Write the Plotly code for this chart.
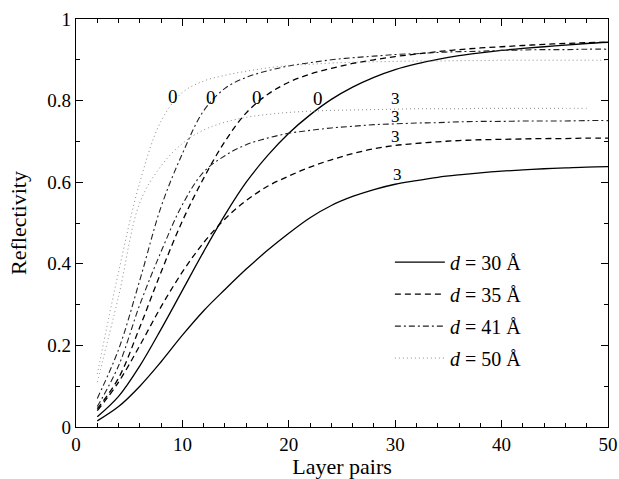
import plotly.graph_objects as go

layer_pairs = [2, 4, 6, 8, 10, 12, 14, 16, 18, 20, 22, 24, 26, 28, 30,
               32, 34, 36, 38, 40, 42, 44, 46, 48, 50]

r30_s0 = [0.025, 0.075, 0.15, 0.24, 0.335, 0.43, 0.52, 0.60, 0.665, 0.72, 0.765, 0.803, 0.833,
          0.857, 0.876, 0.89, 0.901, 0.91, 0.917, 0.923, 0.928, 0.932, 0.936, 0.94, 0.943]
r30_s3 = [0.015, 0.05, 0.10, 0.16, 0.225, 0.285, 0.337, 0.387, 0.433, 0.475, 0.513, 0.543, 0.565,
          0.582, 0.595, 0.604, 0.612, 0.618, 0.623, 0.627, 0.63, 0.633, 0.635, 0.637, 0.638]
r35_s0 = [0.045, 0.12, 0.245, 0.38, 0.505, 0.61, 0.70, 0.77, 0.815, 0.845, 0.865, 0.879, 0.891,
          0.90, 0.908, 0.914, 0.92, 0.925, 0.929, 0.932, 0.935, 0.938, 0.94, 0.942, 0.943]
r35_s3 = [0.04, 0.11, 0.20, 0.295, 0.38, 0.452, 0.51, 0.555, 0.59, 0.615, 0.637, 0.655, 0.67,
          0.682, 0.69, 0.695, 0.699, 0.702, 0.704, 0.705, 0.706, 0.707, 0.707, 0.708, 0.708]
r41_s0 = [0.07, 0.19, 0.36, 0.54, 0.67, 0.775, 0.83, 0.857, 0.873, 0.885, 0.893, 0.90, 0.905,
          0.909, 0.913, 0.915, 0.918, 0.92, 0.921, 0.923, 0.924, 0.925, 0.925, 0.926, 0.926]
r41_s3 = [0.05, 0.15, 0.30, 0.43, 0.545, 0.625, 0.665, 0.692, 0.708, 0.72, 0.727, 0.733, 0.737,
          0.741, 0.743, 0.745, 0.746, 0.748, 0.749, 0.749, 0.75, 0.75, 0.75, 0.751, 0.751]
r50_s0 = [0.13, 0.38, 0.60, 0.75, 0.82, 0.848, 0.862, 0.872, 0.88, 0.886, 0.889, 0.892, 0.894,
          0.895, 0.896, 0.897, 0.897, 0.898, 0.898, 0.899, 0.899, 0.899, 0.899, 0.899, 0.899]
r50_s3 = [0.11, 0.32, 0.55, 0.64, 0.695, 0.728, 0.747, 0.759, 0.766, 0.771, 0.774, 0.776, 0.777,
          0.778, 0.779, 0.78, 0.78, 0.78, 0.781, 0.781, 0.781, 0.781, 0.781, 0.781, None]

legend_names = ["<i>d</i> = 30 Å", "<i>d</i> = 35 Å", "<i>d</i> = 41 Å", "<i>d</i> = 50 Å"]

label0_x = [9.1, 12.7, 17.0, 22.7]
label0_y = [0.81, 0.808, 0.808, 0.806]
label3_x = [30.05, 30.05, 30.05, 30.2]
label3_y = [0.806, 0.762, 0.711, 0.618]

x_tickvals = [0, 10, 20, 30, 40, 50]
y_tickvals = [0, 0.2, 0.4, 0.6, 0.8, 1]
y_ticktext = ["0", "0.2", "0.4", "0.6", "0.8", "1"]

FONT = "Liberation Serif"

styles = [
    dict(color="black", width=1.3, dash="solid"),
    dict(color="black", width=1.3, dash="6px,4px"),
    dict(color="#222222", width=1.1, dash="6px,3px,2px,3px"),
    dict(color="#8a8a8a", width=1.0, dash="1px,3px"),
]

series = [(r30_s0, r30_s3), (r35_s0, r35_s3), (r41_s0, r41_s3), (r50_s0, r50_s3)]

fig = go.Figure()
for i, (s0, s3) in enumerate(series):
    fig.add_trace(go.Scatter(x=layer_pairs, y=s0, mode="lines", name=legend_names[i],
                             line=dict(**styles[i], shape="spline", smoothing=1.0),
                             legendgroup=f"g{i}", showlegend=True))
    fig.add_trace(go.Scatter(x=layer_pairs, y=s3, mode="lines", name=legend_names[i],
                             line=dict(**styles[i], shape="spline", smoothing=1.0),
                             legendgroup=f"g{i}", showlegend=False, connectgaps=False))

annotations = []
for x, y in zip(label0_x, label0_y):
    annotations.append(dict(x=x, y=y, text="0", showarrow=False, xref="x", yref="y",
                            font=dict(family=FONT, size=19, color="black")))
for x, y in zip(label3_x, label3_y):
    annotations.append(dict(x=x, y=y, text="3", showarrow=False, xref="x", yref="y",
                            font=dict(family=FONT, size=17, color="black")))

axis_common = dict(showgrid=False, zeroline=False, showline=True, linecolor="black", linewidth=1.2,
                   mirror="allticks", ticks="inside", ticklen=7, tickwidth=1, tickcolor="black",
                   automargin=False,
                   tickfont=dict(family=FONT, size=19, color="black"))

fig.update_layout(
    width=619, height=479,
    margin=dict(l=76, r=11, t=19, b=52, autoexpand=False),
    paper_bgcolor="white", plot_bgcolor="white",
    font=dict(family=FONT, color="black"),
    showlegend=True,
    legend=dict(x=0.59, y=0.452, xanchor="left", yanchor="top", itemwidth=50,
                bgcolor="rgba(0,0,0,0)", font=dict(family=FONT, size=20, color="black"),
                tracegroupgap=3, traceorder="grouped"),
    annotations=annotations,
)
fig.update_xaxes(range=[0, 50], tickvals=x_tickvals,
                 minor=dict(dtick=2, ticks="inside", ticklen=4, tickcolor="black"),
                 title=dict(text="Layer pairs", font=dict(family=FONT, size=22), standoff=6),
                 **axis_common)
fig.update_yaxes(range=[0, 1], tickvals=y_tickvals, ticktext=y_ticktext,
                 minor=dict(tickvals=[0.1, 0.3, 0.5, 0.7, 0.9], ticks="inside", ticklen=4, tickcolor="black"),
                 title=dict(text="Reflectivity", font=dict(family=FONT, size=22), standoff=14),
                 **axis_common)

fig.write_html("out.html")
